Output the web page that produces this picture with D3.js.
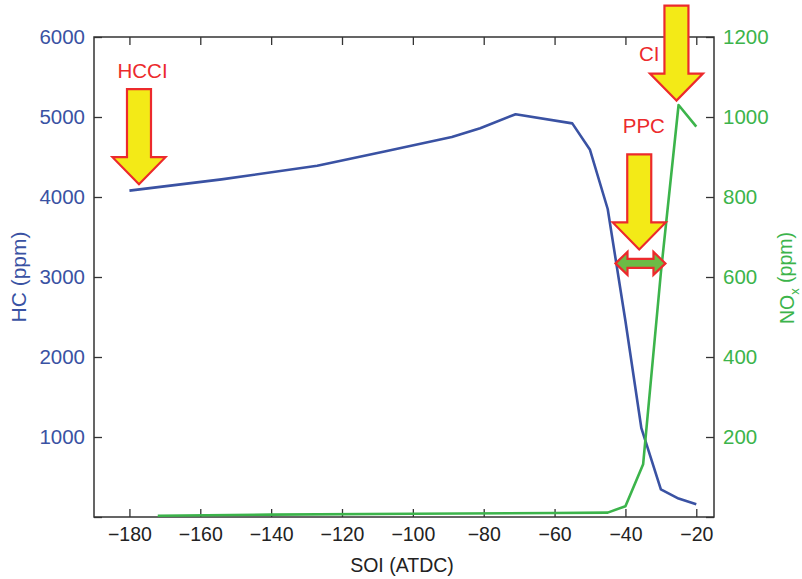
<!DOCTYPE html>
<html>
<head>
<meta charset="utf-8">
<script src="https://cdn.jsdelivr.net/npm/d3@7/dist/d3.min.js"></script>
<style>
  body { margin: 0; background: #fff; }
  svg { display: block; font-family: "Liberation Sans", Arial, Helvetica, sans-serif; }
</style>
</head>
<body>
<div id="chart"></div>
<script>
// SOI (ATDC) vs HC and NOx
var hcSoi  = [-180, -154, -127, -108, -89, -81, -71, -55, -50, -45, -40, -35.5, -30, -25, -20];
var hcPpm  = [4080, 4220, 4390, 4570, 4750, 4860, 5035, 4920, 4590, 3850, 2450, 1110, 345, 230, 160];
var noxSoi = [-172, -140, -100, -60, -45, -40, -35, -30, -25, -20];
var noxPpm = [3, 6, 8, 10, 11, 27, 132, 610, 1030, 976];

var xTicks   = [-180, -160, -140, -120, -100, -80, -60, -40, -20];
var hcTicks  = [0, 1000, 2000, 3000, 4000, 5000, 6000];
var noxTicks = [0, 200, 400, 600, 800, 1000, 1200];

// annotation arrows: tip position in data units (axis: which y scale)
var downArrows = [
  {label: "HCCI", soi: -177.3, val: 4160, axis: "hc", lx: -176.3, lv: 5488, anchor: "middle"},
  {label: "PPC",  soi: -36.1,  val: 669,  axis: "nox", lx: -34.8, lv: 959, anchor: "middle"},
  {label: "CI",   soi: -25.6,  val: 1041, axis: "nox", lx: -30.4, lv: 1140, anchor: "end"}
];
var rangeArrow = {from: -42.8, to: -28.7, val: 634};

var width = 802, height = 579;
var margin = {top: 37, left: 94, right: 88, bottom: 62};
var blue = "#3a52a3", green = "#3cb44b", red = "#ec2a2c", yellow = "#f3ea17";

var svg = d3.select("#chart").append("svg")
  .attr("width", width)
  .attr("height", height);

var x = d3.scaleLinear().domain([-190, -15]).range([margin.left, width - margin.right]);
var yHC = d3.scaleLinear().domain([0, 6000]).range([height - margin.bottom, margin.top]);
var yNOx = d3.scaleLinear().domain([0, 1200]).range([height - margin.bottom, margin.top]);

function styleAxis(g, color, size) {
  g.select(".domain").remove();
  g.selectAll(".tick line").attr("stroke", "#333").attr("stroke-width", 1.3);
  g.selectAll(".tick text").attr("fill", color).attr("font-size", size)
    .attr("font-family", "Liberation Sans, Arial, sans-serif");
}

var hideZero = function(d) { return d === 0 ? "" : d; };

svg.append("g")
  .attr("transform", "translate(0," + (height - margin.bottom) + ")")
  .call(d3.axisBottom(x).tickValues(xTicks).tickSize(-8).tickPadding(10))
  .call(styleAxis, "#222", 19.5);

svg.append("g")
  .attr("transform", "translate(0," + margin.top + ")")
  .call(d3.axisTop(x).tickValues(xTicks).tickSize(-8).tickFormat(""))
  .call(styleAxis, "#222", 19);

svg.append("g")
  .attr("transform", "translate(" + margin.left + ",0)")
  .call(d3.axisLeft(yHC).tickValues(hcTicks).tickSize(-8).tickPadding(9).tickFormat(hideZero))
  .call(styleAxis, blue, 20.5);

svg.append("g")
  .attr("transform", "translate(" + (width - margin.right) + ",0)")
  .call(d3.axisRight(yNOx).tickValues(noxTicks).tickSize(-8).tickPadding(9).tickFormat(hideZero))
  .call(styleAxis, green, 20.5);

// frame
svg.append("rect")
  .attr("x", margin.left).attr("y", margin.top)
  .attr("width", width - margin.left - margin.right)
  .attr("height", height - margin.top - margin.bottom)
  .attr("fill", "none").attr("stroke", "#333").attr("stroke-width", 1.5);

// lines
var hcLine = d3.line().x(function(d, i) { return x(hcSoi[i]); }).y(function(d) { return yHC(d); });
var noxLine = d3.line().x(function(d, i) { return x(noxSoi[i]); }).y(function(d) { return yNOx(d); });

svg.append("path").datum(hcPpm)
  .attr("d", hcLine).attr("fill", "none").attr("stroke", blue).attr("stroke-width", 2.6)
  .attr("stroke-linejoin", "round");
svg.append("path").datum(noxPpm)
  .attr("d", noxLine).attr("fill", "none").attr("stroke", green).attr("stroke-width", 2.6)
  .attr("stroke-linejoin", "round");

// arrows
function downArrowPath(tx, ty) {
  var sw = 12, hw = 26.5, hh = 27, sl = 68;
  return "M" + tx + "," + ty +
    "L" + (tx - hw) + "," + (ty - hh) +
    "L" + (tx - sw) + "," + (ty - hh) +
    "L" + (tx - sw) + "," + (ty - hh - sl) +
    "L" + (tx + sw) + "," + (ty - hh - sl) +
    "L" + (tx + sw) + "," + (ty - hh) +
    "L" + (tx + hw) + "," + (ty - hh) + "Z";
}

downArrows.forEach(function(a) {
  var ys = a.axis === "hc" ? yHC : yNOx;
  svg.append("path")
    .attr("d", downArrowPath(x(a.soi), ys(a.val)))
    .attr("fill", yellow).attr("stroke", red).attr("stroke-width", 2.2)
    .attr("stroke-linejoin", "miter");
  svg.append("text")
    .attr("x", x(a.lx)).attr("y", ys(a.lv))
    .attr("text-anchor", a.anchor)
    .attr("font-size", 20.5).attr("fill", red)
    .text(a.label);
});

(function() {
  var x0 = x(rangeArrow.from), x1 = x(rangeArrow.to), cy = yNOx(rangeArrow.val);
  var hl = 12, hh = 11.5, sh = 4.5;
  var p = "M" + x0 + "," + cy +
    "L" + (x0 + hl) + "," + (cy - hh) +
    "L" + (x0 + hl) + "," + (cy - sh) +
    "L" + (x1 - hl) + "," + (cy - sh) +
    "L" + (x1 - hl) + "," + (cy - hh) +
    "L" + x1 + "," + cy +
    "L" + (x1 - hl) + "," + (cy + hh) +
    "L" + (x1 - hl) + "," + (cy + sh) +
    "L" + (x0 + hl) + "," + (cy + sh) +
    "L" + (x0 + hl) + "," + (cy + hh) + "Z";
  svg.append("path").attr("d", p)
    .attr("fill", "#6cbb45").attr("stroke", red).attr("stroke-width", 2.2);
})();

// axis titles
var midY = (margin.top + height - margin.bottom) / 2;
svg.append("text")
  .attr("transform", "translate(26," + midY + ") rotate(-90)")
  .attr("text-anchor", "middle").attr("font-size", 21).attr("fill", blue)
  .text("HC (ppm)");

var nox = svg.append("text")
  .attr("transform", "translate(794," + (midY + 1) + ") rotate(-90)")
  .attr("text-anchor", "middle").attr("font-size", 19.5).attr("fill", green);
nox.append("tspan").text("NO");
nox.append("tspan").attr("font-size", 13).attr("dy", "0.35em").text("x");
nox.append("tspan").attr("dy", "-0.35em").text(" (ppm)");

svg.append("text")
  .attr("x", (margin.left + width - margin.right) / 2 - 2).attr("y", 572)
  .attr("text-anchor", "middle").attr("font-size", 19.5).attr("fill", "#222")
  .text("SOI (ATDC)");
</script>
</body>
</html>
